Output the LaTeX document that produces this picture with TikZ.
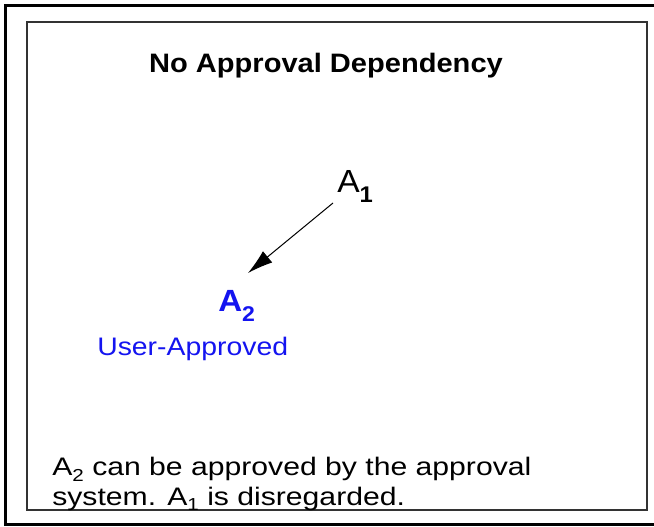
\documentclass[tikz,border=0pt]{standalone}
\usepackage{fontspec}
\setmainfont{Liberation Sans}
\usetikzlibrary{arrows.meta}
\definecolor{ablue}{RGB}{20,20,240}
\tikzset{
  txt/.style={inner sep=0pt, anchor=base west},
}
\newcommand{\subdig}[3]{\raisebox{#3}{\fontsize{#1}{#1}\selectfont #2}}
\begin{document}
\begin{tikzpicture}[x=0.75pt,y=-0.75pt]
\useasboundingbox (0,0) rectangle (654,527);
\fill[white] (0,0) rectangle (654,527);
% outer frame
\draw[line width=2.6pt, black] (660,5.5) -- (5.5,5.5) -- (5.5,524.5) -- (660,524.5);
% inner frame
\draw[line width=1.5pt, black!80] (27,22) rectangle (647,510);
% title
\node[inner sep=0pt, anchor=base, font=\bfseries\fontsize{20}{24}\selectfont, xscale=1.09] (title) at (326,73) {No Approval Dependency};
% A1
\node[txt, font=\fontsize{24}{26}\selectfont, xscale=1.05] (a1) at (337,193) {A\subdig{17}{\bfseries 1}{-0.3em}};
% A2
\node[txt, text=ablue, font=\bfseries\fontsize{23}{26}\selectfont, xscale=1.08] (a2) at (218,312) {A\subdig{16}{2}{-0.3em}};
% user approved
\node[txt, text=ablue, font=\fontsize{19}{22}\selectfont, xscale=1.12] (ua) at (97,356) {User-Approved};
% arrow
\coordinate (arrs) at (333,203);
\coordinate (arre) at (248,273);
\draw[line width=0.75pt, -{Latex[length=19pt,width=11pt]}] (arrs) -- (arre);
% bottom text
\node[txt, font=\fontsize{19}{22}\selectfont, xscale=1.19] (l1) at (52,476) {A\subdig{13}{2}{-0.22em} can be approved by the approval};
\node[txt, font=\fontsize{19}{22}\selectfont, xscale=1.19] (l2) at (52,505) {system. A\subdig{13}{1}{-0.22em} is disregarded.};
\end{tikzpicture}
\end{document}
